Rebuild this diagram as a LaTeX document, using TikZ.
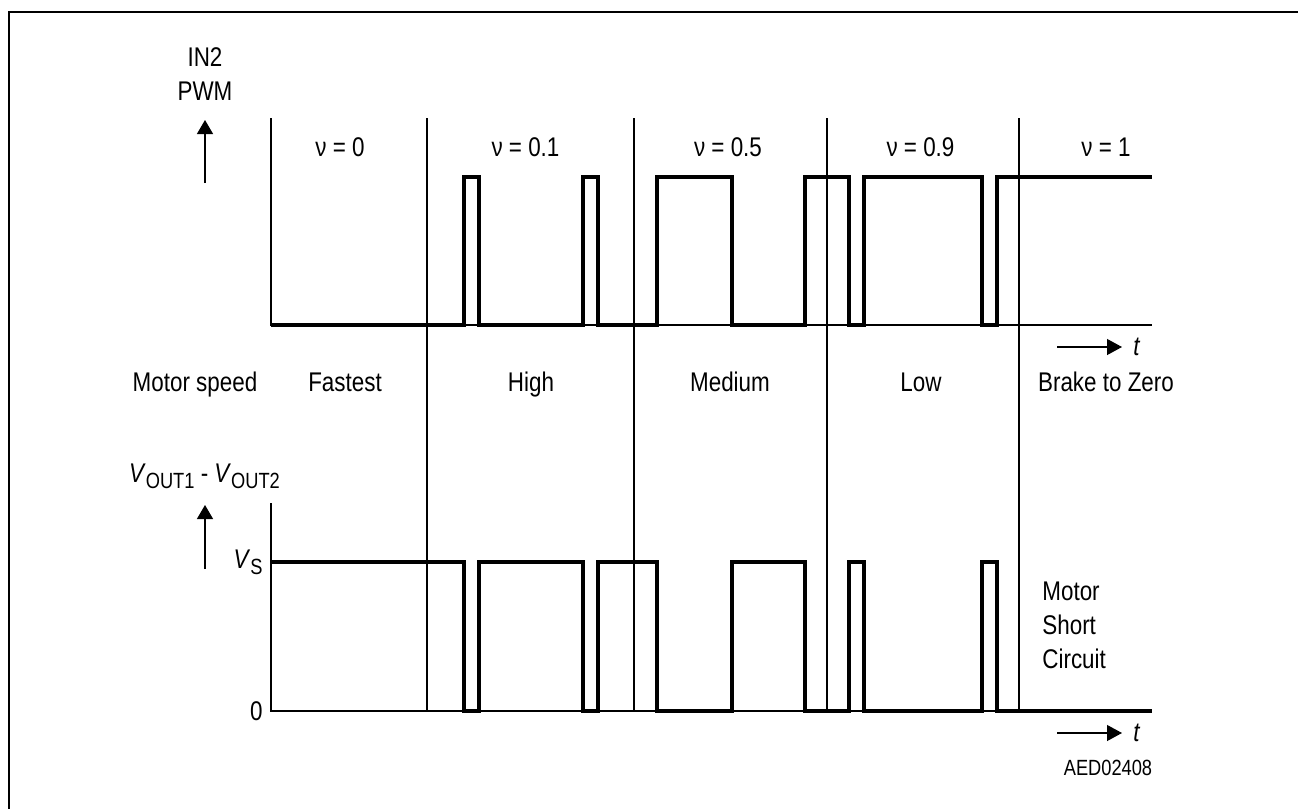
\documentclass[tikz,border=0pt]{standalone}
\usepackage{fontspec}
\setmainfont{Liberation Sans}[FakeStretch=0.83]
\usepackage{tikz}
\usetikzlibrary{arrows.meta, positioning}

\tikzset{
	thinline/.style={line width=0.6pt},
	wave/.style={line width=2.1pt},
	uparrow/.style={line width=0.6pt, -{Triangle[width=8pt,length=7pt]}},
	timearrow/.style={line width=0.6pt, -{Triangle[width=8pt,length=7.5pt]}},
	lbl/.style={inner sep=0pt, font=\fontsize{13.5}{17}\selectfont},
}

\newcommand{\lowidx}[1]{\raisebox{-3pt}{\fontsize{11}{12}\selectfont #1}}

% one PWM trace, #1 = level at the start, #2 = the other level
\newcommand{\pwmtrace}[2]{%
	\draw[wave] (271,#1) -- (464,#1) -- (464,#2) -- (479,#2) -- (479,#1) -- (583,#1) -- (583,#2) -- (598,#2) -- (598,#1) -- (657,#1) -- (657,#2) -- (732,#2) -- (732,#1) -- (805,#1) -- (805,#2) -- (849,#2) -- (849,#1) -- (864,#1) -- (864,#2) -- (982,#2) -- (982,#1) -- (997,#1) -- (997,#2) -- (1152,#2);}

\begin{document}
\begin{tikzpicture}[x=0.5pt, y=-0.5pt]
		
		\useasboundingbox (0,0) rectangle (1298,809);
		
		%//frame
		\draw[line width=1.2pt] (9,809) -- (9,12) -- (1298,12);
		
		%//axes and base lines
		\draw[thinline] (271,118) -- (271,325) -- (1152,325);
		\draw[thinline] (271,503) -- (271,711) -- (1152,711);
		
		\foreach \xs [count=\i] in {427,634,827,1019}
		\draw[thinline] (\xs,118) coordinate (sep\i) -- (\xs,711);
		
		%//input and output traces
		\pwmtrace{325}{177}
		\pwmtrace{562}{711}
		
		%//top labels
		\node[lbl, align=center] (in2) at (205,74.5) {IN2\\PWM};
		\coordinate (in2tail) at (205,183);
		\coordinate (in2tip) at (205,120);
		\draw[uparrow] (in2tail) -- (in2tip);
		
		\foreach \xc/\val [count=\i] in {340/0, 525.5/0.1, 728/0.5, 920.5/0.9, 1106/1}
		\node[lbl] (duty\i) at (\xc,147) {ν = \val};
		
		\coordinate (ttail1) at (1057,347);
		\coordinate (ttip1) at (1122,347);
		\draw[timearrow] (ttail1) -- (ttip1);
		\node[lbl, right=5.5pt of ttip1] (t1) {\textit{t}};
		
		%//motor speed row
		\foreach \xc/\txt [count=\i] in {195/Motor speed, 345/Fastest, 531/High, 730/Medium, 921/Low, 1106/Brake to Zero}
		\node[lbl, anchor=base] (speed\i) at (\xc,391) {\txt};
		
		%//bottom labels
		\node[lbl, anchor=base] (vdiff) at (204.5,482) {\textit{V}\lowidx{OUT1} - \textit{V}\lowidx{OUT2}};
		\coordinate (vtail) at (205,569);
		\coordinate (vtip) at (205,505);
		\draw[uparrow] (vtail) -- (vtip);
		
		\node[lbl, anchor=base east] (vs) at (263,568) {\textit{V}\lowidx{S}};
		\node[lbl, anchor=east] (zero) at (263,711) {0};
		
		\node[lbl, align=left, anchor=west] (short) at (1042,625) {Motor\\Short\\Circuit};
		
		\coordinate (ttail2) at (1057,733);
		\coordinate (ttip2) at (1122,733);
		\draw[timearrow] (ttail2) -- (ttip2);
		\node[lbl, right=5.5pt of ttip2] (t2) {\textit{t}};
		
		\node[lbl, font=\fontsize{11}{12}\selectfont] (code) at (1108,768) {AED02408};
		
\end{tikzpicture}
\end{document}
